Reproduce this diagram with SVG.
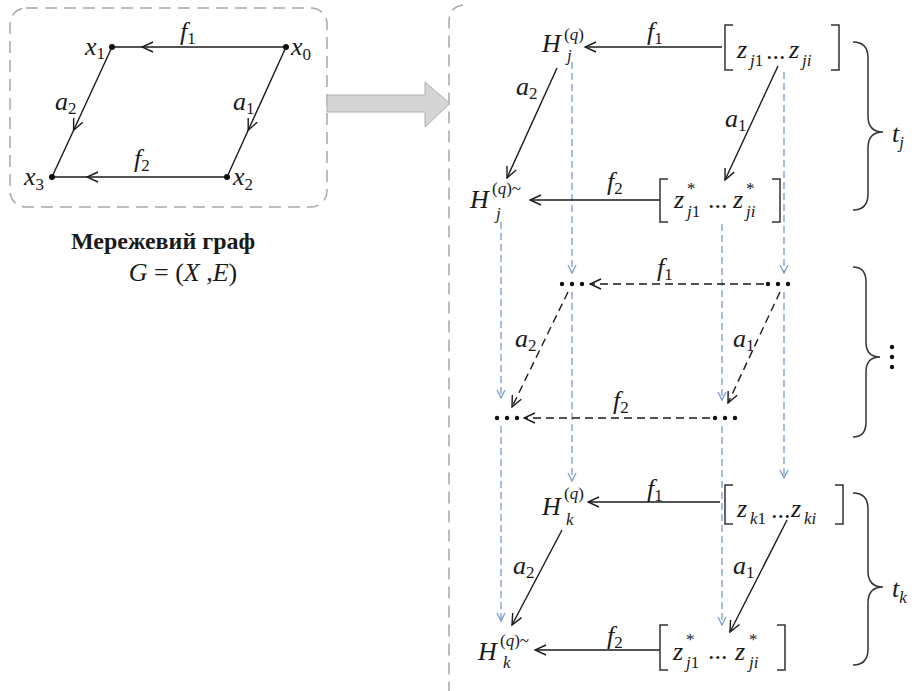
<svg xmlns="http://www.w3.org/2000/svg" width="916" height="691" viewBox="0 0 916 691">
<style>
.m{font-family:"Liberation Serif","Times New Roman",serif;font-style:italic;font-size:26px;fill:#1a1a1a}
.s{font-size:17px}
.u{font-style:normal}
.e{fill:none;stroke:#1a1a1a;stroke-width:1.4}
.d{fill:none;stroke:#1a1a1a;stroke-width:1.4;stroke-dasharray:8 5}
.b{fill:none;stroke:#7b9bcb;stroke-width:1.3;stroke-dasharray:7 4}
.br{fill:none;stroke:#333;stroke-width:1.5}
.frame{fill:none;stroke:#a8a8a8;stroke-width:1.5;stroke-dasharray:12 7}
.dot{fill:#111}
.title{font-family:"Liberation Serif","Times New Roman",serif;font-weight:bold;font-size:24px;fill:#1a1a1a}
</style>
<defs>
<marker id="ah" markerUnits="userSpaceOnUse" markerWidth="14" markerHeight="12" viewBox="0 0 14 12" refX="13" refY="6" orient="auto"><path d="M2,1 L13,6 L2,11" fill="none" stroke="#1a1a1a" stroke-width="1.4"/></marker>
<marker id="ab" markerUnits="userSpaceOnUse" markerWidth="10" markerHeight="10" viewBox="0 0 10 10" refX="9" refY="5" orient="auto"><path d="M1,1 L9,5 L1,9" fill="none" stroke="#7b9bcb" stroke-width="1.3"/></marker>
</defs>

<g id="frames">
<rect class="frame" x="10" y="8" width="317" height="199" rx="16"/>
<path class="frame" d="M463,5 Q449,7 449,22 L449,691"/>
<polygon points="327,95 425,95 425,82 450,103.5 425,127 425,112 327,112" fill="#d5d5d5" stroke="#b0b0b0" stroke-width="1"/>
</g>

<g id="connectors-left">
<path class="e" d="M286,47 L142,47 L112,47" marker-mid="url(#ah)"/>
<path class="e" d="M112,47 L73.6,130.2 L52,177" marker-mid="url(#ah)"/>
<path class="e" d="M286,47 L248.2,130.2 L227,177" marker-mid="url(#ah)"/>
<path class="e" d="M227,177 L87,177 L52,177" marker-mid="url(#ah)"/>
<text class="m" x="180" y="40">f<tspan class="s u" dy="4">1</tspan></text>
<text class="m" x="55" y="110">a<tspan class="s u" dy="4">2</tspan></text>
<text class="m" x="233" y="110">a<tspan class="s u" dy="4">1</tspan></text>
<text class="m" x="134" y="167">f<tspan class="s u" dy="4">2</tspan></text>
</g>
<g id="x0"><circle class="dot" cx="286" cy="47" r="3"/><text class="m" x="291" y="55">x<tspan class="s u" dy="5">0</tspan></text></g>
<g id="x1"><circle class="dot" cx="112" cy="47" r="3"/><text class="m" x="85" y="55">x<tspan class="s u" dy="4">1</tspan></text></g>
<g id="x2"><circle class="dot" cx="227" cy="177" r="3"/><text class="m" x="233" y="185">x<tspan class="s u" dy="5">2</tspan></text></g>
<g id="x3"><circle class="dot" cx="52" cy="177" r="3"/><text class="m" x="24" y="185">x<tspan class="s u" dy="5">3</tspan></text></g>
<g id="caption">
<text class="title" x="163" y="249" text-anchor="middle">Мережевий граф</text>
<text class="m" x="183" y="281" text-anchor="middle">G<tspan class="u"> = (</tspan>X<tspan class="u"> ,</tspan>E<tspan class="u">)</tspan></text>
</g>

<g id="connectors">
<path class="b" d="M572,62 L572,273" marker-end="url(#ab)"/>
<path class="b" d="M572,292 L572,481" marker-end="url(#ab)"/>
<path class="b" d="M784,72 L784,273" marker-end="url(#ab)"/>
<path class="b" d="M784,292 L784,478" marker-end="url(#ab)"/>
<path class="b" d="M501,222 L501,398" marker-end="url(#ab)"/>
<path class="b" d="M501,426 L501,621" marker-end="url(#ab)"/>
<path class="b" d="M722,224 L722,400" marker-end="url(#ab)"/>
<path class="b" d="M722,426 L722,625" marker-end="url(#ab)"/>

<path class="e" d="M722,47 L585,47" marker-end="url(#ah)"/>
<path class="e" d="M557,68 L507,178" marker-end="url(#ah)"/>
<path class="e" d="M778,66 L725,180" marker-end="url(#ah)"/>
<path class="e" d="M660,200 L530,200" marker-end="url(#ah)"/>

<path class="d" d="M764,284 L590,284" marker-end="url(#ah)"/>
<path class="d" d="M568,292 L512,407" marker-end="url(#ah)"/>
<path class="d" d="M780,292 L728,403" marker-end="url(#ah)"/>
<path class="d" d="M710,418 L524,418" marker-end="url(#ah)"/>

<path class="e" d="M720,502 L588,502" marker-end="url(#ah)"/>
<path class="e" d="M562,530 L512,625" marker-end="url(#ah)"/>
<path class="e" d="M787,520 L730,632" marker-end="url(#ah)"/>
<path class="e" d="M660,650 L535,650" marker-end="url(#ah)"/>

<text class="m" x="647" y="40">f<tspan class="s u" dy="4">1</tspan></text>
<text class="m" x="516" y="95">a<tspan class="s u" dy="4">2</tspan></text>
<text class="m" x="725" y="127">a<tspan class="s u" dy="4">1</tspan></text>
<text class="m" x="607" y="190">f<tspan class="s u" dy="4">2</tspan></text>

<text class="m" x="657" y="276">f<tspan class="s u" dy="4">1</tspan></text>
<text class="m" x="515" y="347">a<tspan class="s u" dy="4">2</tspan></text>
<text class="m" x="733" y="347">a<tspan class="s u" dy="4">1</tspan></text>
<text class="m" x="613" y="409">f<tspan class="s u" dy="4">2</tspan></text>

<text class="m" x="647" y="497">f<tspan class="s u" dy="4">1</tspan></text>
<text class="m" x="513" y="574">a<tspan class="s u" dy="4">2</tspan></text>
<text class="m" x="733" y="574">a<tspan class="s u" dy="4">1</tspan></text>
<text class="m" x="607" y="644">f<tspan class="s u" dy="4">2</tspan></text>
</g>

<g id="Hj">
<text class="m" x="542" y="52">H</text>
<text class="m s" x="564" y="40"><tspan class="u">(</tspan>q<tspan class="u">)</tspan></text>
<text class="m s" x="567" y="61">j</text>
</g>
<g id="zj">
<path class="br" d="M733,25 L725,25 L725,70 L733,70"/>
<path class="br" d="M831,25 L839,25 L839,70 L831,70"/>
<text class="m" x="737" y="58">z</text><text class="m s" x="750" y="66">j<tspan class="u">1</tspan></text>
<text class="m u" x="766" y="59" font-size="22">...</text>
<text class="m" x="789" y="58">z</text><text class="m s" x="802" y="66">ji</text>
</g>
<g id="Hj-tilde">
<text class="m" x="470" y="208">H</text>
<text class="m s" x="492" y="194"><tspan class="u">(</tspan>q<tspan class="u">)~</tspan></text>
<text class="m s" x="496" y="219">j</text>
</g>
<g id="zj-star">
<path class="br" d="M668,179 L660,179 L660,222 L668,222"/>
<path class="br" d="M772,179 L780,179 L780,222 L772,222"/>
<text class="m" x="674" y="208">z</text><text class="m s u" x="687" y="194">*</text><text class="m s" x="687" y="217">j<tspan class="u">1</tspan></text>
<text class="m u" x="708" y="208" font-size="22">...</text>
<text class="m" x="733" y="208">z</text><text class="m s u" x="746" y="194">*</text><text class="m s" x="746" y="217">ji</text>
</g>
<g id="brace-tj">
<path class="br" d="M853,42 Q868,42 868,58 L868,116 Q868,132 883,132 Q868,132 868,148 L868,194 Q868,210 853,210"/>
<text class="m" x="892" y="142">t<tspan class="s" dy="6">j</tspan></text>
</g>

<g id="dots-tl"><circle class="dot" cx="562" cy="284" r="2.2"/><circle class="dot" cx="572" cy="284" r="2.2"/><circle class="dot" cx="582" cy="284" r="2.2"/></g>
<g id="dots-tr"><circle class="dot" cx="768" cy="284" r="2.2"/><circle class="dot" cx="778" cy="284" r="2.2"/><circle class="dot" cx="788" cy="284" r="2.2"/></g>
<g id="dots-bl"><circle class="dot" cx="497" cy="418" r="2.2"/><circle class="dot" cx="507" cy="418" r="2.2"/><circle class="dot" cx="517" cy="418" r="2.2"/></g>
<g id="dots-br"><circle class="dot" cx="715" cy="418" r="2.2"/><circle class="dot" cx="725" cy="418" r="2.2"/><circle class="dot" cx="735" cy="418" r="2.2"/></g>
<g id="brace-mid">
<path class="br" d="M853,267 Q866,267 866,282 L866,342 Q866,357 880,357 Q866,357 866,372 L866,422 Q866,437 853,437"/>
<circle class="dot" cx="892" cy="347" r="2.2"/><circle class="dot" cx="892" cy="357" r="2.2"/><circle class="dot" cx="892" cy="367" r="2.2"/>
</g>

<g id="Hk">
<text class="m" x="542" y="515">H</text>
<text class="m s" x="564" y="499"><tspan class="u">(</tspan>q<tspan class="u">)</tspan></text>
<text class="m s" x="566" y="525">k</text>
</g>
<g id="zk">
<path class="br" d="M733,485 L725,485 L725,524 L733,524"/>
<path class="br" d="M835,485 L843,485 L843,524 L835,524"/>
<text class="m" x="737" y="517">z</text><text class="m s" x="750" y="524">k<tspan class="u">1</tspan></text>
<text class="m u" x="771" y="518" font-size="22">...</text>
<text class="m" x="791" y="517">z</text><text class="m s" x="804" y="524">ki</text>
</g>
<g id="Hk-tilde">
<text class="m" x="478" y="660">H</text>
<text class="m s" x="500" y="646"><tspan class="u">(</tspan>q<tspan class="u">)~</tspan></text>
<text class="m s" x="503" y="668">k</text>
</g>
<g id="zk-star">
<path class="br" d="M668,625 L660,625 L660,670 L668,670"/>
<path class="br" d="M777,625 L785,625 L785,670 L777,670"/>
<text class="m" x="673" y="660">z</text><text class="m s u" x="686" y="645">*</text><text class="m s" x="686" y="668">j<tspan class="u">1</tspan></text>
<text class="m u" x="708" y="659" font-size="22">...</text>
<text class="m" x="735" y="660">z</text><text class="m s u" x="749" y="645">*</text><text class="m s" x="749" y="668">ji</text>
</g>
<g id="brace-tk">
<path class="br" d="M853,493 Q868,493 868,509 L868,571 Q868,587 883,587 Q868,587 868,603 L868,649 Q868,665 853,665"/>
<text class="m" x="892" y="597">t<tspan class="s" dy="6">k</tspan></text>
</g>
</svg>
